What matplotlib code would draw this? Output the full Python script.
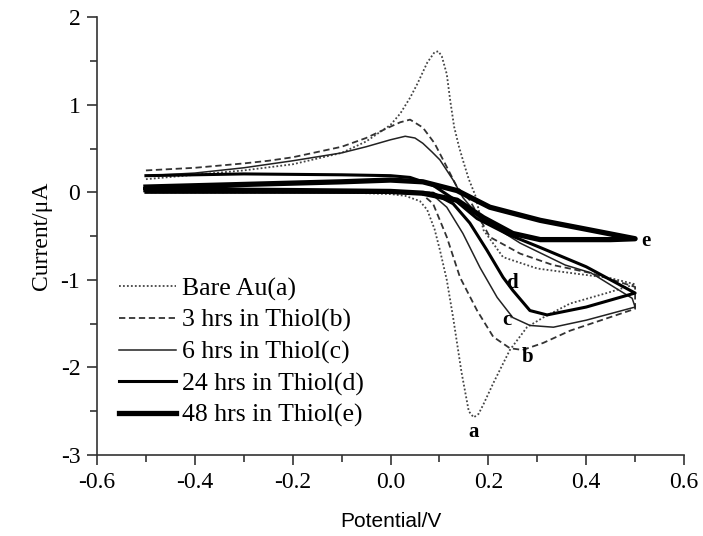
import matplotlib
matplotlib.use("Agg")
import matplotlib.pyplot as plt
from matplotlib.ticker import MultipleLocator

# 读图得到的数据 (potential / V, current / uA), 每条曲线为一个闭合的循环
pot_a = [-0.5, -0.4, -0.3, -0.2, -0.1, -0.05, 0.0, 0.02, 0.04, 0.055, 0.075, 0.09, 0.098, 0.105,
         0.115, 0.122, 0.13, 0.14, 0.15, 0.16, 0.173, 0.19, 0.23, 0.30, 0.367, 0.45, 0.5,
         0.442, 0.367, 0.312, 0.279, 0.244, 0.21, 0.19, 0.18, 0.17, 0.16, 0.145, 0.128, 0.115,
         0.101, 0.09, 0.075, 0.06, 0.03, 0.0, -0.1, -0.3, -0.5]
cur_a = [0.15, 0.20, 0.25, 0.32, 0.45, 0.58, 0.77, 0.9, 1.08, 1.24, 1.48, 1.60, 1.61, 1.55,
         1.35, 1.05, 0.75, 0.52, 0.33, 0.15, -0.03, -0.43, -0.74, -0.87, -0.92, -0.98, -1.05,
         -1.15, -1.27, -1.43, -1.54, -1.80, -2.18, -2.42, -2.53, -2.57, -2.5, -2.05, -1.43, -1.0,
         -0.66, -0.42, -0.2, -0.1, -0.04, -0.02, 0.0, 0.0, 0.0]

pot_b = [-0.5, -0.4, -0.3, -0.25, -0.2, -0.1, -0.05, 0.0, 0.02, 0.04, 0.066, 0.09, 0.115,
         0.136, 0.162, 0.203, 0.265, 0.332, 0.408, 0.5,
         0.5, 0.367, 0.312, 0.27, 0.244, 0.21, 0.177, 0.142, 0.115, 0.087, 0.06, 0.0, -0.2, -0.5]
cur_b = [0.25, 0.28, 0.33, 0.36, 0.40, 0.52, 0.62, 0.75, 0.80, 0.83, 0.74, 0.56, 0.29,
         0.06, -0.09, -0.51, -0.70, -0.83, -0.92, -1.08,
         -1.33, -1.58, -1.72, -1.80, -1.78, -1.65, -1.35, -0.97, -0.51, -0.13, 0.0, 0.0, 0.0, 0.0]

pot_c = [-0.5, -0.4, -0.3, -0.25, -0.2, -0.1, -0.05, 0.0, 0.03, 0.05, 0.066, 0.085, 0.101, 0.128,
         0.148, 0.183, 0.265, 0.357, 0.41, 0.494,
         0.5, 0.40, 0.333, 0.285, 0.25, 0.218, 0.183, 0.148, 0.115, 0.08, 0.0, -0.2, -0.5]
cur_c = [0.19, 0.22, 0.28, 0.32, 0.36, 0.45, 0.52, 0.60, 0.64, 0.62, 0.56, 0.46, 0.37, 0.14,
         -0.06, -0.29, -0.58, -0.83, -0.92, -1.21,
         -1.31, -1.46, -1.54, -1.52, -1.43, -1.2, -0.86, -0.47, -0.17, 0.0, 0.0, 0.0, 0.0]

pot_d = [-0.5, -0.3, -0.1, 0.0, 0.04, 0.087, 0.13, 0.177, 0.24, 0.306, 0.40, 0.5,
         0.40, 0.32, 0.285, 0.25, 0.23, 0.197, 0.162, 0.128, 0.087, 0.0, -0.2, -0.5]
cur_d = [0.19, 0.21, 0.20, 0.19, 0.17, 0.08, -0.08, -0.30, -0.48, -0.63, -0.85, -1.15,
         -1.31, -1.40, -1.35, -1.12, -0.97, -0.66, -0.35, -0.13, -0.01, 0.0, 0.0, 0.0]

pot_e = [-0.5, -0.3, -0.1, 0.0, 0.066, 0.136, 0.203, 0.306, 0.408, 0.5,
         0.45, 0.306, 0.25, 0.19, 0.136, 0.066, 0.0, -0.2, -0.5]
cur_e = [0.06, 0.09, 0.12, 0.14, 0.12, 0.02, -0.17, -0.32, -0.43, -0.53,
         -0.54, -0.54, -0.47, -0.29, -0.09, -0.01, 0.01, 0.02, 0.03]

labels = ['Bare Au(a)', '3 hrs in Thiol(b)', '6 hrs in Thiol(c)',
          '24 hrs in Thiol(d)', '48 hrs in Thiol(e)']
tags = ['a', 'b', 'c', 'd', 'e']
tag_pos = [(0.169, -2.74), (0.281, -1.88), (0.238, -1.46), (0.248, -1.03), (0.523, -0.56)]

serif = 'Liberation Serif'
sans = 'Liberation Sans'

fig = plt.figure(figsize=(7.03, 5.36), dpi=100)
ax = fig.add_axes([0.138, 0.151, 0.835, 0.817])

ax.plot(pot_a, cur_a, color='#444444', lw=1.3, linestyle=(0, (1, 1.2)), label=labels[0])
ax.plot(pot_b, cur_b, color='#333333', lw=1.3, linestyle=(0, (3.5, 2)), label=labels[1])
ax.plot(pot_c, cur_c, color='#222222', lw=1.1, label=labels[2])
ax.plot(pot_d, cur_d, color='black', lw=2.2, label=labels[3])
ax.plot(pot_e, cur_e, color='black', lw=3.8, label=labels[4])

for t, (px, py) in zip(tags, tag_pos):
    ax.text(px, py, t, family=serif, fontweight='bold', fontsize=15,
            ha='center', va='center')

ax.set_xlim(-0.6, 0.6)
ax.set_ylim(-3, 2)
ax.xaxis.set_minor_locator(MultipleLocator(0.1))
ax.yaxis.set_minor_locator(MultipleLocator(0.5))
ax.set_xticks([-0.6, -0.4, -0.2, 0.0, 0.2, 0.4, 0.6])
ax.set_xticklabels(['-0.6', '-0.4', '-0.2', '0.0', '0.2', '0.4', '0.6'])
ax.set_yticks([-3, -2, -1, 0, 1, 2])
ax.set_yticklabels(['-3', '-2', '-1', '0', '1', '2'])

for s in ['top', 'right']:
    ax.spines[s].set_visible(False)
for s in ['left', 'bottom']:
    ax.spines[s].set_color('#333333')
    ax.spines[s].set_linewidth(1.2)

ax.tick_params(which='major', direction='out', length=7, width=1.2, color='#333333',
               labelsize=17, pad=5)
ax.tick_params(which='minor', direction='out', length=5, width=1.2, color='#333333')
for lab in ax.get_xticklabels() + ax.get_yticklabels():
    lab.set_family(serif)

ax.set_xlabel('Potential/V', family=sans, fontsize=15, labelpad=14)
ax.set_ylabel('Current/\u03bcA', family=serif, fontsize=17, labelpad=6)

ax.legend(loc='lower left', bbox_to_anchor=(0.02, 0.04), frameon=False,
          prop={'family': serif, 'size': 18.5}, handlelength=2.2,
          handletextpad=0.25, labelspacing=0.32, borderaxespad=0)

fig.savefig('out.png', dpi=100)
